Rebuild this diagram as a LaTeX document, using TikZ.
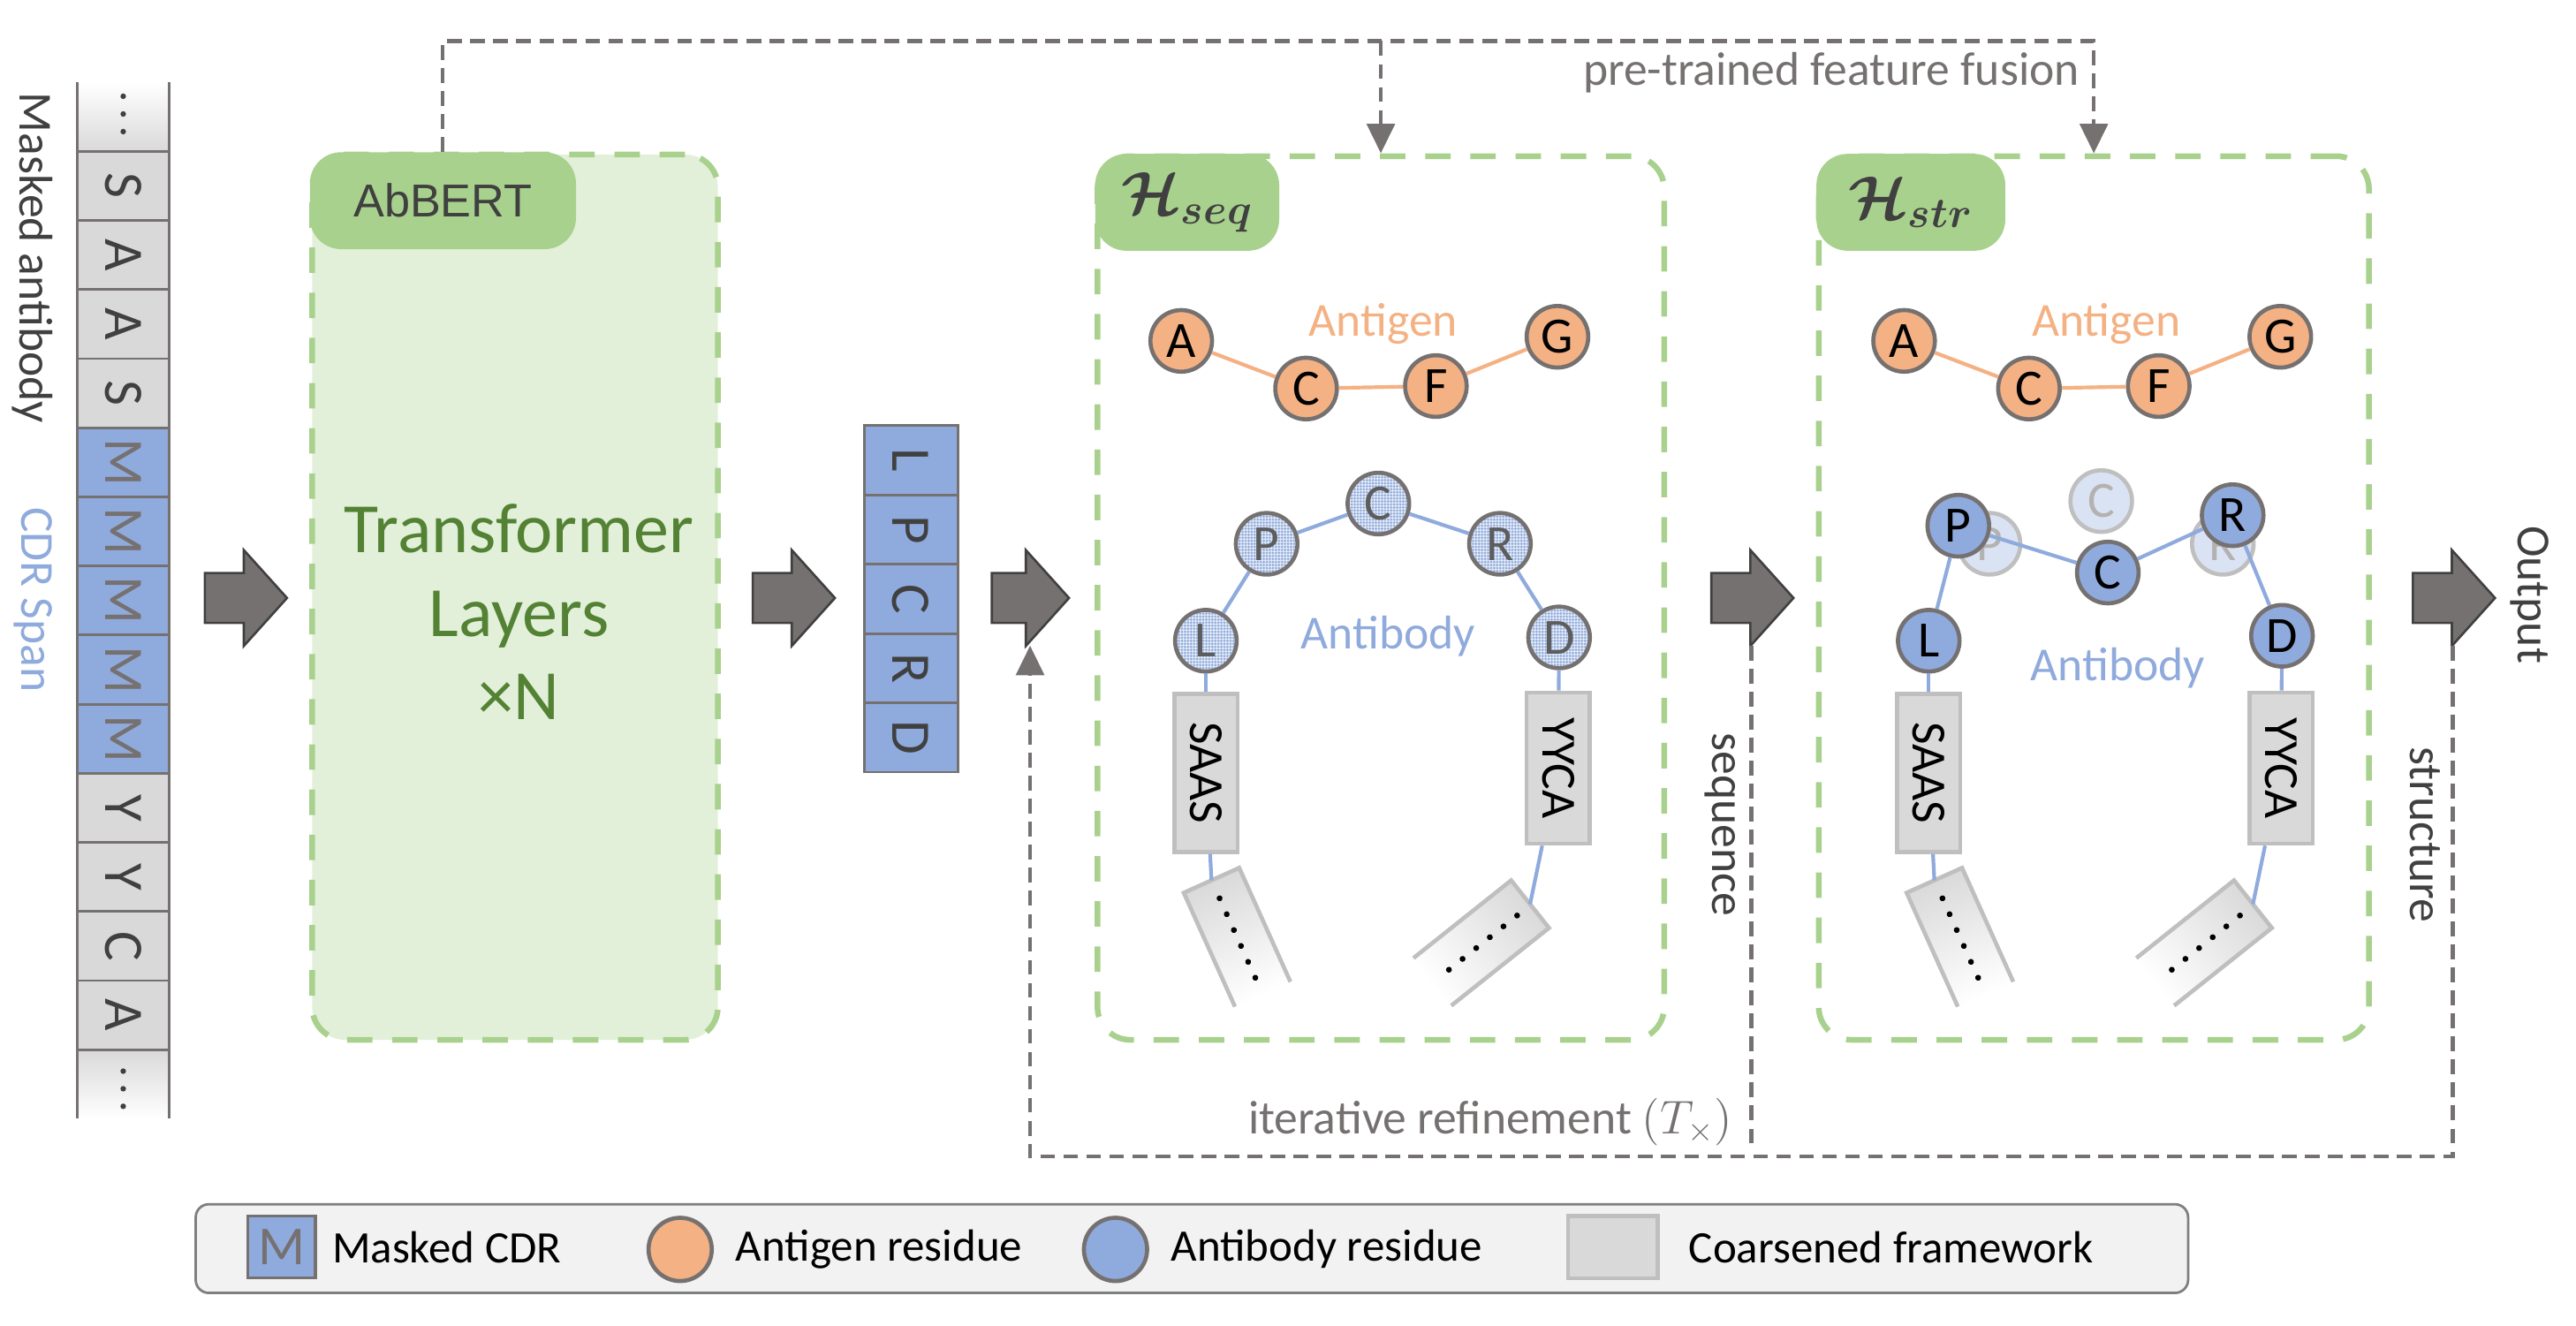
\RequirePackage{fix-cm}
\documentclass[tikz,border=0pt]{standalone}
\usepackage{amsmath}
\usepackage{fontspec}
\setmainfont{Carlito}
\newfontfamily\arialfont{Liberation Sans}
\usetikzlibrary{calc, positioning, arrows.meta, shapes.arrows, patterns.meta}

\definecolor{abgreen}{HTML}{A9D18E}
\definecolor{abpale}{HTML}{E2F0D9}
\definecolor{abdeep}{HTML}{548235}
\definecolor{abgray}{HTML}{767171}
\definecolor{abdark}{HTML}{404040}
\definecolor{aborange}{HTML}{F4B183}
\definecolor{abblue}{HTML}{8FAADC}
\definecolor{abghost}{HTML}{DAE3F3}
\definecolor{cellgray}{HTML}{D9D9D9}
\definecolor{fwgray}{HTML}{BFBFBF}
\definecolor{legfill}{HTML}{F2F2F2}
\definecolor{legline}{HTML}{7F7F7F}

\begin{document}
\begin{tikzpicture}[x = 0.02cm, y = -0.02cm,
  lbl/.style = {font = \fontsize{16.4}{19}\selectfont, inner sep = 0pt},
  legtxt/.style = {font = \fontsize{15.6}{18}\selectfont, inner sep = 0pt},
  cell/.style = {draw = abgray, line width = 0.03cm, rotate = -90, minimum width = 0.8414cm, minimum height = 1.12cm, inner sep = 0pt, font = \fontsize{19.3}{22}\selectfont},
  gcell/.style = {fill = cellgray, text = abdark},
  mcell/.style = {fill = abblue, text = abgray},
  bigarrow/.style = {single arrow, draw = abdark, fill = abgray, line width = 0.028cm, minimum height = 1cm, text height = 0.29cm, text depth = 0.29cm, text width = 0pt, single arrow head extend = 0.28cm, single arrow tip angle = 96, inner sep = 0pt, anchor = tail},
  hbox/.style = {draw = abgreen, line width = 0.07cm, dash pattern = on 0.31cm off 0.24cm, rounded corners = 0.4cm, minimum height = 10.76cm},
  htab/.style = {fill = abgreen, rounded corners = 0.38cm, minimum height = 1.18cm, anchor = north west, inner sep = 0pt, text = abdark},
  fusion/.style = {draw = abgray, line width = 0.045cm, dash pattern = on 0.18cm off 0.1cm},
  fusetip/.style = {-{Triangle[width = 0.34cm, length = 0.36cm]}},
  res/.style = {circle, draw = abgray, line width = 0.05cm, minimum size = 0.75cm, inner sep = 0pt, font = \fontsize{17.6}{20}\selectfont},
  agres/.style = {res, fill = aborange},
  abres/.style = {res, fill = abblue},
  dotres/.style = {res, preaction = {fill = abblue!25!white}, pattern = {Dots[radius = 0.45pt, distance = 1.05pt]}, pattern color = abblue, text = abdark!85},
  ghostres/.style = {res, fill = abghost, draw = fwgray, text = abgray!55},
  fwline/.style = {draw = fwgray, line width = 0.05cm},
  fwbox/.style = {fwline, fill = cellgray, inner sep = 0pt},
  fw/.style = {fwbox, rotate = -90, minimum height = 0.77cm, font = \fontsize{17}{20}\selectfont},
  agline/.style = {draw = aborange, line width = 0.045cm},
  abline/.style = {draw = abblue, line width = 0.045cm}]
\useasboundingbox (0,0) rectangle (1568,807);

% masked input sequence
\shade[top color = white, bottom color = cellgray] (47,50) rectangle (103,92.07);
\shade[top color = cellgray, bottom color = white] (47,638.98) rectangle (103,681);
\foreach \l/\c [count = \i from 2] in {S/gcell,A/gcell,A/gcell,S/gcell,M/mcell,M/mcell,M/mcell,M/mcell,M/mcell,Y/gcell,Y/gcell,C/gcell,A/gcell}
  \node[cell, \c] (seq\i) at (75,{50+42.07*(\i-0.5)}) {\l};
\draw[abgray, line width = 0.03cm] (47,50) -- (47,681) (103,50) -- (103,681);
\foreach \y in {58.6,69.4,80.1} \fill[abdark] (75,\y) circle[radius = 0.034cm];
\foreach \y in {652,662.7,673.4} \fill[abdark] (75,\y) circle[radius = 0.034cm];
\node[lbl, rotate = -90, text = abdark] (maskedtxt) at (20,157) {Masked antibody};
\node[lbl, rotate = -90, text = abblue] (cdrtxt) at (20,365) {CDR Span};

% block arrows
\node[bigarrow] (arr1) at (124,364) {};
\node[bigarrow] (arr2) at (457.5,364) {};
\node[bigarrow, minimum height = 0.94cm] (arr3) at (603,364) {};
\node[bigarrow] (arr4) at (1041,364) {};
\node[bigarrow] (arr5) at (1468,364) {};

% AbBERT
\node[hbox, fill = abpale, minimum width = 4.94cm, minimum height = 10.78cm] (abbert) at (313.5,363.5) {};
\node[htab, minimum width = 3.24cm, font = \arialfont\fontsize{16}{19}\selectfont] (abtab) at (abbert.north west) {AbBERT};
\node[align = center, text = abdeep, font = \fontsize{24.5}{29}\selectfont] (tflayers) at (316,372.5) {Transformer\\Layers\\×N};

% predicted CDR
\foreach \l [count = \i] in {L,P,C,R,D}
  \node[cell, mcell, text = abdark, minimum height = 1.14cm] (cdr\i) at (554.5,{259+42.2*(\i-0.5)}) {\l};

% the two encoders
\node[hbox, minimum width = 6.9cm] (hseq) at (840.5,364) {};
\node[htab, minimum width = 2.24cm, font = \fontsize{21}{24}\selectfont] (hseqtab) at (hseq.north west) {$\boldsymbol{\mathcal{H}}_{\boldsymbol{seq}}$};
\node[hbox, minimum width = 6.7cm] (hstr) at (1274.5,364) {};
\node[htab, minimum width = 2.3cm, font = \fontsize{21}{24}\selectfont] (hstrtab) at (hstr.north west) {$\boldsymbol{\mathcal{H}}_{\boldsymbol{str}}$};

\foreach \dx/\s in {0/seq,440/str}{
\begin{scope}[shift = {(\dx,0)}]
\node[agres] (agA\s) at (719,207.5) {A};
\node[agres] (agC\s) at (795,236.5) {C};
\node[agres] (agF\s) at (874,235) {F};
\node[agres] (agG\s) at (948,205) {G};
\draw[agline] (agA\s) -- (agC\s) -- (agF\s) -- (agG\s);
\node[lbl, text = aborange] (agtxt\s) at (842,197) {Antigen};
\node[fw, minimum width = 1.92cm] (saas\s) at (734,470.5) {SAAS};
\node[fw, minimum width = 1.84cm] (yyca\s) at (948.5,467.5) {YYCA};
% coarsened tails
\begin{scope}[shift = {(753,570.5)}, rotate = 24.2]
\shade[top color = cellgray, bottom color = white, shading angle = 24.2] (-18.5,-38) rectangle (18.5,38);
\draw[fwline] (-18.5,38) -- (-18.5,-38) -- (18.5,-38) -- (18.5,38);
\foreach \t in {-26,-15.4,-4.8,5.8,16.4,27} \fill (0,\t) circle[radius = 0.036cm];
\coordinate (lltop\s) at (0,-38);
\end{scope}
\begin{scope}[shift = {(901.6,574)}, rotate = 38.5]
\shade[top color = cellgray, bottom color = white, shading angle = -51.5] (-38,-18.5) rectangle (38,18.5);
\draw[fwline] (-38,-18.5) -- (38,-18.5) -- (38,18.5) -- (-38,18.5);
\foreach \t in {-25.5,-14.9,-4.3,6.3,16.9,27.5} \fill (\t,0.5) circle[radius = 0.036cm];
\coordinate (lrend\s) at (38,0);
\end{scope}
\draw[abline] (saas\s) -- (lltop\s);
\draw[abline] (yyca\s) -- (lrend\s);
\end{scope}
}

% sequence encoder antibody
\node[dotres] (abLseq) at (734,390) {L};
\node[dotres] (abPseq) at (771,331) {P};
\node[dotres] (abCseq) at (839,306.5) {C};
\node[dotres] (abRseq) at (913,331) {R};
\node[dotres] (abDseq) at (949,388) {D};
\draw[abline] (abLseq) -- (abPseq) -- (abCseq) -- (abRseq) -- (abDseq);
\draw[abline] (abLseq) -- (saasseq);
\draw[abline] (abDseq) -- (yycaseq);
\node[lbl, text = abblue] (abtxtseq) at (845,387.5) {Antibody};

% structure encoder antibody
\node[ghostres] (ghPstr) at (1211,331) {P};
\node[ghostres] (ghCstr) at (1279,305) {C};
\node[ghostres] (ghRstr) at (1353,331) {R};
\node[abres] (abLstr) at (1174,390) {L};
\node[abres] (abPstr) at (1192,320) {P};
\node[abres] (abCstr) at (1283,348.5) {C};
\node[abres] (abRstr) at (1359,313.6) {R};
\node[abres] (abDstr) at (1389,387) {D};
\draw[abline] (abLstr) -- (abPstr) -- (abCstr) -- (abRstr) -- (abDstr);
\draw[abline] (abLstr) -- (saasstr);
\draw[abline] (abDstr) -- (yycastr);
\node[lbl, text = abblue] (abtxtstr) at (1289,406.5) {Antibody};

% feature fusion
\coordinate (fuse) at (0,25);
\draw[fusion, fusetip] (abtab.north) -- (abtab.north |- fuse) -- (hstr.north |- fuse) -- (hstr.north);
\draw[fusion, fusetip] (hseq.north |- fuse) -- (hseq.north);
\node[lbl, text = abgray, anchor = east] (fusetxt) at (1266,44) {pre-trained feature fusion};

% refinement loop
\coordinate (ref3) at (627,393);
\coordinate (ref4) at (1066,393);
\coordinate (ref5) at (1493,393);
\coordinate (seqend) at (1066,697);
\coordinate (loopbot) at (0,704);
\draw[fusion, fusetip] (ref5) -- (ref5 |- loopbot) -- (ref3 |- loopbot) -- (ref3);
\draw[fusion] (ref4) -- (seqend);
\node[lbl, text = abgray, anchor = east] (itertxt) at (1055,683) {iterative refinement $(T_{\times})$};
\node[lbl, rotate = -90, text = abdark] (seqtxt) at (1047,502) {sequence};
\node[lbl, rotate = -90, text = abdark] (strtxt) at (1476,508) {structure};
\node[lbl, rotate = -90, text = abdark] (outtxt) at (1540,362) {Output};

% legend
\node[draw = legline, fill = legfill, line width = 0.03cm, rounded corners = 0.16cm, minimum width = 24.26cm, minimum height = 1.08cm] (legend) at (725.5,760) {};
\node[draw = abgray, fill = abblue, text = abgray, line width = 0.035cm, minimum width = 0.82cm, minimum height = 0.76cm, inner sep = 0pt, font = \fontsize{19}{21}\selectfont] (legM) at (171.5,759) {M};
\node[legtxt, right = 0.18cm of legM] (legMtxt) {Masked CDR};
\node[agres, minimum size = 0.77cm] (legAg) at (414,760.5) {};
\node[legtxt, right = 0.26cm of legAg] (legAgtxt) {Antigen residue};
\node[abres, minimum size = 0.77cm] (legAb) at (679,760.5) {};
\node[legtxt, right = 0.26cm of legAb] (legAbtxt) {Antibody residue};
\node[fwbox, minimum width = 1.09cm, minimum height = 0.76cm] (legFw) at (981.75,759) {};
\node[legtxt, right = 0.35cm of legFw] (legFwtxt) {Coarsened framework};
\end{tikzpicture}
\end{document}
